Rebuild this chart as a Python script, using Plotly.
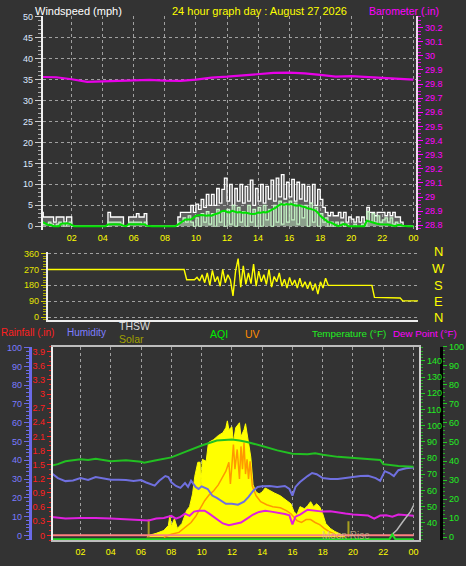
import plotly.graph_objects as go

W, H = 466, 566
def fx(x): return x / W
def fy(y): return 1 - y / H

FONT = "Liberation Sans, Arial, sans-serif"
BG = "#333333"
GRID = "#a0a0a0"

# ---------------- DATA ----------------
hour_ticks = [2, 4, 6, 8, 10, 12, 14, 16, 18, 20, 22, 24]
hour_labels = ["02", "04", "06", "08", "10", "12", "14", "16", "18", "20", "22", "00"]

baro_hours = list(range(25))
barometer = [29.850, 29.848, 29.834, 29.815, 29.819, 29.822, 29.822, 29.830, 29.824, 29.823,
             29.832, 29.846, 29.852, 29.862, 29.872, 29.879, 29.881, 29.876, 29.865, 29.852,
             29.856, 29.850, 29.845, 29.841, 29.832]

# wind samples every 10 minutes (index / 6 = hour)
wind_gust = [
    3.3, 2.2, 2.2, 2.2, 2.2, 1.0,
    2.2, 2.2, 2.2, 1.0, 2.2, 2.2,
    0, 0, 0, 0, 0, 0,
    0, 0, 0, 0, 0, 0,
    0, 0, 3.3, 2.2, 2.2, 2.2,
    2.2, 2.2, 0, 0, 2.2, 2.2,
    2.2, 3.0, 2.2, 2.2, 3.0, 0,
    0, 0, 0, 0, 0, 0,
    0, 0, 0, 0, 0, 2.2,
    3.3, 3.3, 3.3, 3.3, 5.0, 3.3,
    5.3, 4.0, 6.4, 4.5, 7.6, 5.0,
    7.6, 5.0, 9.0, 5.5, 8.8, 11.5,
    6.0, 10.0, 5.0, 9.0, 6.0, 10.0,
    5.5, 9.5, 6.0, 11.0, 5.0, 9.0,
    6.0, 10.0, 5.5, 9.5, 6.5, 11.0,
    6.0, 11.5, 7.0, 12.3, 6.5, 10.5,
    7.0, 11.2, 6.0, 10.5, 6.5, 10.0,
    6.0, 9.5, 5.5, 10.0, 5.0, 8.8,
    6.4, 4.5, 3.3, 2.5, 3.3, 2.5,
    2.5, 3.3, 2.0, 3.3, 1.0, 2.2,
    1.7, 1.0, 2.2, 1.0, 2.2, 1.0,
    4.5, 3.3, 3.3, 2.5, 3.3, 3.3,
    3.3, 2.5, 3.3, 2.5, 3.3, 2.2,
    2.2, 1.0, 0, 0, 0, 0,
    0]

wind_speed = [
    1, 0.5, 0.5, 1, 0.5, 0,
    0.5, 1, 0.5, 0, 0.5, 1,
    0, 0, 0, 0, 0, 0,
    0, 0, 0, 0, 0, 0,
    0, 0, 1, 1, 1, 1,
    1, 0.5, 0, 0, 1, 1,
    1, 1, 1, 0.5, 1, 0,
    0, 0, 0, 0, 0, 0,
    0, 0, 0, 0, 0, 1,
    1, 2, 1, 2.5, 1, 0,
    2, 0, 3, 1, 3.5, 0.5,
    3, 0, 4, 1, 3.5, 0,
    4, 0.5, 5, 0, 4.5, 1,
    3.5, 0, 5, 1, 4, 0,
    4.5, 0, 5, 1.5, 4, 0,
    5, 1, 6, 0.5, 5.5, 1,
    6, 1.5, 5.5, 0.5, 5, 2,
    5, 0, 5.5, 1, 4.5, 0,
    3, 1, 2, 0, 1, 0,
    1, 0, 1, 0, 0.5, 0,
    0, 0.5, 0, 0, 0.5, 0,
    3.5, 1, 3, 1, 2.5, 1,
    1.5, 2, 1, 2, 0.5, 1,
    0.5, 0, 0, 0, 0, 0,
    0]

wind_avg = [
    1.2, 0.9, 0.5, 0.3, 0.3, 0,
    0, 0, 0.6, 0.7, 0.7, 0.6,
    0.2, 0, 0, 0, 0, 0,
    0, 0, 0, 0, 0, 0,
    0, 0, 0.4, 0.5, 0.5, 0.5,
    0.5, 0.4, 0.1, 0, 0.5, 0.5,
    0.5, 0.5, 0.5, 0.5, 0.5, 0.1,
    0, 0, 0, 0, 0, 0,
    0, 0, 0, 0, 0, 0.4,
    0.8, 1.2, 1.6, 1.6, 1.6, 2.0,
    2.5, 2.6, 2.7, 2.6, 2.5, 2.6,
    2.5, 2.8, 3.0, 3.2, 3.6, 3.7,
    3.4, 3.3, 3.7, 3.5, 3.3, 3.4,
    3.2, 3.3, 3.1, 3.0, 2.9, 3.0,
    3.3, 3.2, 3.4, 3.3, 3.5, 3.8,
    4.1, 4.5, 5.0, 5.3, 5.1, 5.3,
    5.2, 5.3, 5.0, 4.9, 5.0, 4.7,
    4.6, 4.3, 4.2, 4.0, 3.8, 3.3,
    2.5, 2.0, 1.5, 1.0, 0.9, 0.5,
    0.3, 0, 0.3, 0.5, 0.4, 0,
    0, 0, 0, 0, 0, 0,
    1.3, 1.1, 0.9, 0.8, 0.6, 0.5,
    0.5, 0.5, 0.4, 0.3, 0.2, 0,
    0.3, 0.3, 0.1, 0, 0, 0,
    0]

wind_dir = [
    270, 270, 270, 270, 270, 270,
    270, 270, 270, 270, 270, 270,
    270, 270, 270, 270, 270, 270,
    270, 270, 270, 270, 270, 270,
    270, 270, 270, 270, 270, 270,
    270, 270, 270, 270, 270, 270,
    270, 270, 270, 270, 270, 270,
    270, 270, 270, 270, 270, 270,
    270, 270, 270, 270, 270, 270,
    212, 212, 212, 212, 225, 205,
    240, 195, 250, 180, 265, 200,
    230, 175, 270, 195, 240, 210,
    120, 260, 332, 170, 290, 185,
    250, 190, 300, 175, 260, 200,
    240, 185, 270, 170, 230, 200,
    250, 175, 215, 165, 225, 180,
    210, 165, 220, 170, 200, 160,
    200, 150, 190, 130, 200, 165,
    220, 180, 180, 180, 180, 180,
    180, 180, 180, 180, 180, 180,
    180, 180, 180, 180, 180, 180,
    180, 112, 112, 112, 112, 112,
    108, 108, 108, 108, 108, 108,
    92, 92, 92, 92, 92, 92,
    92]
ten_min_hours = [i / 6 for i in range(len(wind_gust))]

temp_hours = [0, 0.5, 1, 2, 2.5, 3, 4, 5, 6, 6.2, 7, 8, 9, 10, 11, 12, 12.5, 13, 14, 15,
              16, 17, 17.5, 18, 19, 20, 21, 21.8, 22, 23, 24]
temperature = [75.1, 76.2, 78.0, 79.2, 78.8, 79.6, 78.0, 78.6, 77.7, 77.1, 78.6, 80.4, 84.1, 87.7,
               90.8, 91.4, 90.8, 89.9, 87.4, 84.7, 82.6, 82.3, 82.9, 82.0, 80.7, 80.1, 79.2,
               78.8, 76.2, 75.1, 74.6]

hum_hours = [0, 0.5, 1, 1.5, 2, 2.5, 3, 3.5, 4, 4.5, 5, 5.5, 6, 6.3, 6.6, 6.9, 7.2, 7.6, 7.8, 8.0,
             8.3, 8.6, 8.9, 9.1, 9.3, 9.6, 9.8, 10.0, 10.4, 10.7, 11.0, 11.3, 11.6, 12.0, 12.4,
             12.8, 13.1, 13.4, 13.7, 14.0, 14.5, 15.0, 15.5, 15.8, 16.0, 16.2, 16.5, 17.0, 17.3,
             17.6, 18.0, 18.5, 19.0, 19.5, 20.0, 20.5, 21.0, 21.5, 21.8, 22.1, 22.4, 22.7, 23.0,
             23.5, 24]
humidity = [33.7, 30.5, 28.9, 29.2, 30.5, 29.5, 31.1, 30.5, 29.6, 29.6, 29.5, 28.9, 29.5, 28.3,
            27.4, 26.5, 29.1, 31.6, 31.1, 28.3, 26.3, 25.3, 27.9, 25.8, 29.1, 25.8, 24.7, 26.1,
            24.7, 21.2, 20.0, 18.4, 16.8, 16.8, 16.3, 17.9, 20.5, 23.7, 25.8, 26.1, 26.3, 25.8,
            26.3, 24.7, 21.2, 25.8, 28.4, 31.6, 33.2, 32.6, 30.5, 30.0, 30.0, 30.5, 31.1, 31.6,
            31.7, 30.5, 29.1, 34.2, 33.2, 31.6, 34.7, 35.8, 36.2]

dew_hours = [0, 1, 2, 3, 4, 5, 6, 6.5, 7.0, 7.5, 8.0, 8.3, 8.6, 8.9, 9.2, 9.5, 9.8, 10.2, 10.5,
             10.8, 11.1, 11.4, 11.8, 12.2, 12.6, 13.0, 13.4, 13.8, 14.2, 14.6, 15.0, 15.5, 15.8,
             16.0, 16.2, 16.5, 17.0, 17.5, 18.0, 18.5, 19.0, 19.5, 20.0, 20.5, 21.0, 21.4, 21.8,
             22.2, 22.6, 23.0, 23.5, 24]
dew_point = [43.7, 42.6, 42.9, 43.0, 42.6, 42.3, 41.6, 41.4, 42.6, 43.0, 44.3, 42.6, 43.7, 45.7,
             44.3, 46.9, 47.5, 47.5, 45.7, 43.8, 41.4, 39.6, 38.5, 39.3, 40.2, 42.6, 45.1, 46.7,
             47.5, 46.9, 46.3, 45.4, 44.6, 39.0, 43.8, 45.1, 48.1, 47.5, 46.9, 47.2, 46.3, 45.7,
             45.1, 44.6, 44.5, 42.6, 44.5, 44.6, 43.7, 45.1, 44.5, 44.3]

solar_hours = [6.4, 6.5, 7.0, 7.5, 7.8, 7.9, 8.0, 8.2, 8.4, 8.7, 9.0, 9.2, 9.4, 9.55, 9.75, 9.9,
               9.95, 10.05, 10.3, 10.45, 10.8, 11.1, 11.4, 11.6, 11.7, 11.8, 12.0, 12.1, 12.25,
               12.5, 12.6, 12.8, 12.9, 13.1, 13.25, 13.4, 13.6, 13.8, 14.0, 14.2, 14.5, 14.8,
               15.2, 15.6, 15.9, 16.1, 16.3, 16.5, 16.8, 17.0, 17.2, 17.4, 17.6, 17.8, 18.0,
               18.2, 18.5, 18.8, 19.2, 19.5]
solar = [0, 1.0, 2.1, 3.6, 6.2, 11.4, 5.7, 9.8, 4.7, 7.3, 14.0, 16.1, 22.8, 32.1, 39.4, 39.4,
         25.4, 40.9, 39.9, 49.7, 51.3, 53.4, 54.9, 57.5, 61.1, 56.5, 58.0, 49.7, 57.5, 60.1,
         52.8, 56.5, 59.6, 49.7, 42.0, 27.5, 23.8, 22.8, 23.8, 25.9, 24.4, 23.3, 21.8, 19.3,
         17.6, 13.5, 11.9, 16.1, 15.0, 16.6, 18.7, 16.1, 17.6, 16.1, 12.4, 7.3, 4.7, 3.1, 1.6, 0]

uv_hours = [7.5, 8.0, 8.5, 9.0, 9.3, 9.6, 9.9, 10.2, 10.5, 10.8, 11.1, 11.4, 11.6, 11.8, 11.9,
            12.0, 12.1, 12.2, 12.35, 12.5, 12.6, 12.7, 12.8, 12.9, 13.0, 13.1, 13.2, 13.35,
            13.6, 13.9, 14.3, 14.7, 15.2, 15.6, 15.9, 16.3, 16.6, 16.9, 17.2, 17.5, 17.8, 18.1,
            18.4, 18.7, 19.0]
uv = [0, 1.6, 2.6, 5.7, 7.8, 10.9, 15.0, 19.2, 22.3, 24.4, 27.5, 31.6, 34.7, 39.4, 28.0, 37.8,
      48.7, 35.8, 46.1, 30.6, 47.7, 35.8, 49.7, 33.2, 40.9, 30.6, 39.9, 26.9, 21.8, 18.7, 17.1,
      16.1, 15.5, 14.0, 12.4, 8.8, 7.8, 9.3, 9.3, 7.8, 6.7, 4.7, 3.1, 2.1, 0]

thsw_hours = [22.5, 22.9, 23.3, 23.8, 24.0]
thsw = [32.0, 35.6, 40.8, 46.9, 50.7]

rain_hours = [0, 24]
rainfall = [0, 0]

aqi_hours = [0, 22.4, 22.6, 22.8, 24]
aqi = [0, 0, 2.5, 0, 0]

sun_event_hours = [6.5, 19.7]
sun_event_marks = [9.5, 8.4]

compass = ["N", "W", "S", "E", "N"]

# ---------------- FIGURE ----------------
fig = go.Figure()

# top panel
fig.add_trace(go.Scatter(x=ten_min_hours, y=wind_gust, mode="lines", line=dict(color="#ffffff", width=1.3, shape="hv"),
                         fill="tozeroy", fillcolor="rgba(205,205,205,0.30)", xaxis="x", yaxis="y"))
fig.add_trace(go.Scatter(x=ten_min_hours, y=wind_speed, mode="lines", line=dict(color="#c4f2c4", width=1.2, shape="hv"),
                         fill="tozeroy", fillcolor="rgba(190,235,190,0.45)", xaxis="x", yaxis="y"))
fig.add_trace(go.Scatter(x=ten_min_hours, y=wind_avg, mode="lines", line=dict(color="#00e000", width=2),
                         xaxis="x", yaxis="y"))
fig.add_trace(go.Scatter(x=baro_hours, y=barometer, mode="lines", line=dict(color="#e800e8", width=2.2),
                         xaxis="x", yaxis="y2"))

# wind direction panel
fig.add_trace(go.Scatter(x=ten_min_hours, y=wind_dir, mode="lines", line=dict(color="#ffff00", width=1.4),
                         xaxis="x2", yaxis="y3"))

# bottom panel
fig.add_trace(go.Scatter(x=solar_hours, y=solar, mode="lines", line=dict(color="#ffff00", width=1),
                         fill="tozeroy", fillcolor="#ffff00", xaxis="x3", yaxis="y4"))
fig.add_trace(go.Scatter(x=uv_hours, y=uv, mode="lines", line=dict(color="#ff9900", width=1.5),
                         xaxis="x3", yaxis="y4"))
sx, sy = [], []
for h, m in zip(sun_event_hours, sun_event_marks):
    sx += [h, h, None]
    sy += [0, m, None]
fig.add_trace(go.Scatter(x=sx, y=sy, mode="lines", line=dict(color="#a8a020", width=2),
                         xaxis="x3", yaxis="y4"))
fig.add_trace(go.Scatter(x=rain_hours, y=rainfall, mode="lines", line=dict(color="#ff8080", width=2),
                         xaxis="x3", yaxis="y5"))
fig.add_trace(go.Scatter(x=hum_hours, y=humidity, mode="lines", line=dict(color="#7070e0", width=2),
                         xaxis="x3", yaxis="y6"))
fig.add_trace(go.Scatter(x=dew_hours, y=dew_point, mode="lines", line=dict(color="#e020e0", width=2),
                         xaxis="x3", yaxis="y7"))
fig.add_trace(go.Scatter(x=temp_hours, y=temperature, mode="lines", line=dict(color="#22c022", width=2),
                         xaxis="x3", yaxis="y7"))
fig.add_trace(go.Scatter(x=thsw_hours, y=thsw, mode="lines", line=dict(color="#b8b8b8", width=1.5),
                         xaxis="x3", yaxis="y7"))
fig.add_trace(go.Scatter(x=aqi_hours, y=aqi, mode="lines", line=dict(color="#22dd22", width=2),
                         xaxis="x3", yaxis="y9"))

tickfont = lambda c: dict(color=c, size=9, family=FONT)

layout = dict(
    width=W, height=H, margin=dict(l=0, r=0, t=0, b=0),
    paper_bgcolor=BG, plot_bgcolor=BG, showlegend=False,
    font=dict(family=FONT),
    # --- top panel
    xaxis=dict(domain=[fx(43), fx(418)], range=[0.14, 24.18], anchor="y",
               tickmode="array", tickvals=hour_ticks, ticktext=hour_labels, tickfont=tickfont("#ffff00"),
               ticks="", ticklabelstandoff=1, showgrid=True, gridcolor=GRID, griddash="dot", gridwidth=1,
               showline=False, zeroline=False),
    yaxis=dict(domain=[fy(228), fy(11)], range=[-0.94, 50.2], anchor="x", tick0=0, dtick=5,
               tickfont=tickfont("#dde8ff"), ticks="outside", ticklen=6, tickcolor="#cccccc",
               minor=dict(dtick=1, tick0=0, ticks="outside", ticklen=3, tickcolor="#aaaaaa", showgrid=False),
               showline=True, linecolor="#f2f2f2", linewidth=2, showgrid=True, gridcolor=GRID,
               griddash="dot", zeroline=False),
    yaxis2=dict(overlaying="y", side="right", anchor="x", range=[28.765, 30.283], tick0=28.8, dtick=0.1,
                tickfont=tickfont("#ff00ff"), ticks="outside", ticklen=5, tickcolor="#ff00ff",
                minor=dict(dtick=0.025, tick0=28.8, ticks="outside", ticklen=3, tickcolor="#dd00dd", showgrid=False),
                showline=True, linecolor="#f0d8f0", linewidth=2, showgrid=False, zeroline=False),
    # --- wind direction panel
    xaxis2=dict(domain=[fx(48), fx(420)], range=[0, 24], anchor="y3", showticklabels=False, ticks="",
                showgrid=False, zeroline=False, showline=True, linecolor="#eeeeee", linewidth=2),
    yaxis3=dict(domain=[fy(319), fy(250)], range=[-16.8, 369.5], anchor="x2", tick0=0, dtick=90,
                tickfont=tickfont("#e4e400"), ticks="outside", ticklen=5, tickcolor="#cccc00",
                minor=dict(dtick=15, tick0=0, ticks="outside", ticklen=3, tickcolor="#aaaa00", showgrid=False),
                showline=True, linecolor="#eeeeee", linewidth=2, showgrid=True, gridcolor=GRID,
                griddash="dot", zeroline=False),
    # --- bottom panel
    xaxis3=dict(domain=[fx(53), fx(421)], range=[0.164, 24.375], anchor="y4",
                tickmode="array", tickvals=hour_ticks, ticktext=hour_labels, tickfont=tickfont("#ffff00"),
                ticks="", ticklabelstandoff=2, showgrid=True, gridcolor=GRID, griddash="dot",
                showline=True, mirror=True, linecolor="#bdbdbd", linewidth=2, zeroline=False),
    yaxis4=dict(domain=[fy(542), fy(346)], range=[-1.55, 100], anchor="free", position=fx(443), side="right",
                tick0=0, dtick=10, tickfont=tickfont("#22ee22"), ticks="outside", ticklen=4,
                tickcolor="#22cc22",
                minor=dict(dtick=2, tick0=0, ticks="outside", ticklen=2, tickcolor="#22aa22", showgrid=False),
                showline=True, linecolor="#000000", linewidth=3, showgrid=False, zeroline=False),
    yaxis5=dict(overlaying="y4", anchor="x3", side="left", range=[-0.105, 4.005], tick0=0, dtick=0.3,
                tickfont=tickfont("#ff2020"), ticks="outside", ticklen=4, tickcolor="#ff2020",
                minor=dict(dtick=0.1, tick0=0, ticks="outside", ticklen=2, tickcolor="#dd2020", showgrid=False),
                showline=True, linecolor="#eeeeee", linewidth=2, showgrid=False, zeroline=False),
    yaxis6=dict(overlaying="y4", anchor="free", position=fx(30), side="left", range=[-2.63, 100.5],
                tick0=0, dtick=10, tickfont=tickfont("#7b7bff"), ticks="outside", ticklen=5,
                tickcolor="#6a6ae8",
                minor=dict(dtick=2, tick0=0, ticks="outside", ticklen=3, tickcolor="#6a6ae8", showgrid=False),
                showline=True, linecolor="#6a6ae8", linewidth=3, showgrid=False, zeroline=False),
    yaxis7=dict(overlaying="y4", anchor="x3", side="right", range=[29.2, 148.7], tickmode="array",
                tickvals=[40, 50, 60, 70, 80, 90, 100, 110, 120, 130, 140],
                tickfont=tickfont("#22ee22"), ticks="outside", ticklen=4, tickcolor="#22cc22",
                minor=dict(dtick=2, tick0=0, ticks="outside", ticklen=2, tickcolor="#22aa22", showgrid=False),
                showline=True, linecolor="#cfcfcf", linewidth=2, showgrid=False, zeroline=False),
    yaxis8=dict(overlaying="y4", anchor="x3", side="left", range=[-0.164, 10.21], tickmode="array",
                tickvals=[1, 2, 3, 4, 5, 6, 7, 8, 9, 10], showticklabels=False, ticks="",
                showgrid=True, gridcolor=GRID, griddash="dot", showline=False, zeroline=False),
    yaxis9=dict(overlaying="y4", anchor="x3", range=[-0.51, 100], visible=False),
)
fig.update_layout(**layout)

ann = []
def text(x, y, s, color, size=11, xanchor="left"):
    ann.append(dict(x=fx(x), y=fy(y), xref="paper", yref="paper", text=s, showarrow=False,
                    xanchor=xanchor, yanchor="middle", borderpad=0,
                    font=dict(color=color, size=size, family=FONT)))

text(34, 6, "Windspeed (mph)", "#ffffff", 11)
text(172, 6, "24 hour graph day : August 27 2026", "#ffff00", 11)
text(370, 6, "Barometer (.in)", "#ff00ff", 10.5)
comp_y = [250, 267, 284, 300, 316]
for lab, yy in zip(compass, comp_y):
    text(440, yy, lab, "#ffff00", size=13, xanchor="center")
text(0, 332, "Rainfall (.in)", "#ff2020", 10)
text(66, 332, "Humidity", "#7f7fff", 10)
text(119, 325, "THSW", "#dcdcdc", 10.5)
text(119, 338, "Solar", "#a0a000", 10.5)
text(210, 333, "AQI", "#00ee00", 10.5)
text(245, 333, "UV", "#ff8c00", 10.5)
text(312, 333, "Temperature (°F)", "#22ee22", 9.8)
text(394, 333, "Dew Point (°F)", "#ff00ff", 9.8)
text(347, 537, "Moon Rise", "rgba(210,190,150,0.75)", size=10, xanchor="center")
fig.update_layout(annotations=ann)

fig.write_html("out.html", config={"displayModeBar": False},
               post_script="document.body.style.margin='0';document.body.style.overflow='hidden';")
